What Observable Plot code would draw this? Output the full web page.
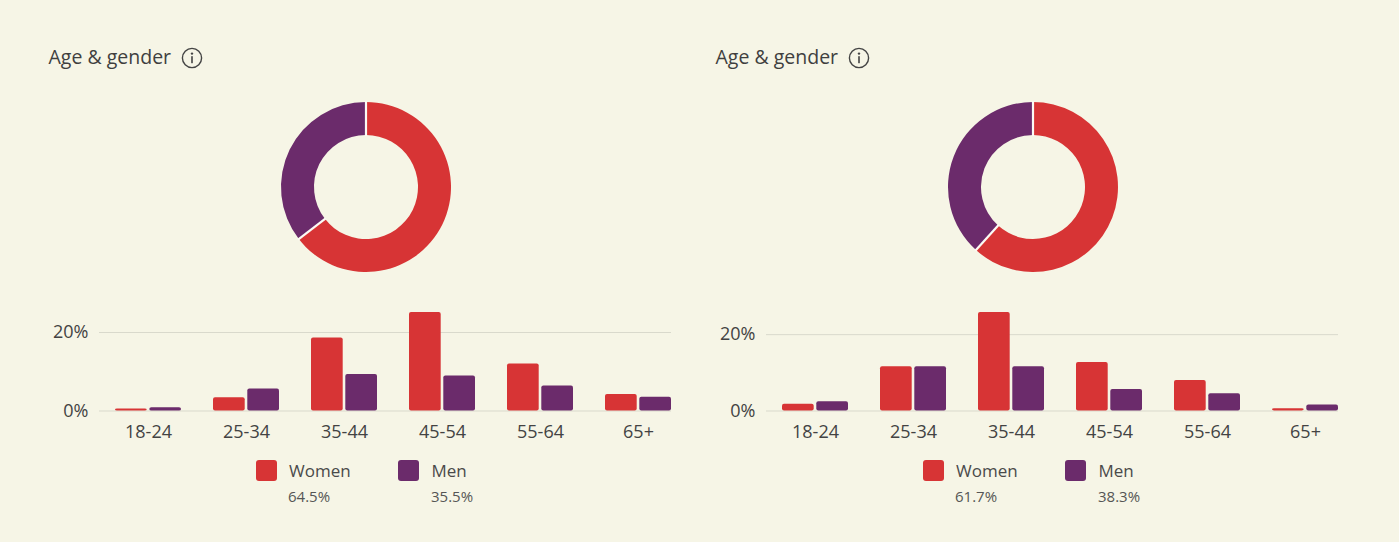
<!DOCTYPE html>
<html>
<head>
<meta charset="utf-8">
<script src="https://cdn.jsdelivr.net/npm/d3@7"></script>
<script src="https://cdn.jsdelivr.net/npm/@observablehq/plot@0.6"></script>
<style>
  html, body { margin: 0; padding: 0; }
  body { width: 1399px; height: 542px; background: #f6f5e6; overflow: hidden; font-family: "Open Sans", sans-serif; }
  #root { position: relative; width: 1399px; height: 542px; }
  .panel { position: absolute; top: 0; width: 700px; height: 542px; }
  .abs { position: absolute; line-height: 1; white-space: nowrap; }
  .title { font-size: 19.5px; color: #3f3f3f; }
  .leg { font-size: 17px; color: #4a4a4a; }
  .pct { font-size: 15px; color: #555; }
  .sw { position: absolute; width: 21px; height: 21px; border-radius: 3px; }
</style>
</head>
<body>
<div id="root"></div>
<script>
// ---- data ----
const ages = ["18-24", "25-34", "35-44", "45-54", "55-64", "65+"];
const genders = ["Women", "Men"];
const colors = ["#d73435", "#6b2b6b"];
const yTicks = [0, 20];

const womenA = [0.5, 3.4, 18.6, 25.1, 12.0, 4.2];
const menA   = [0.8, 5.6, 9.3, 8.9, 6.4, 3.5];
const sharesA = [64.5, 35.5];

const womenB = [1.8, 11.6, 25.8, 12.7, 8.0, 0.6];
const menB   = [2.4, 11.6, 11.6, 5.6, 4.5, 1.6];
const sharesB = [61.7, 38.3];

const panels = [
  {left: 0, women: womenA, men: menA, shares: sharesA},
  {left: 667, women: womenB, men: menB, shares: sharesB}
];

const root = document.getElementById("root");

function donut(shares) {
  const pieData = shares.map((v, i) => ({gender: genders[i], value: v}));
  return Plot.plot({
    width: 200, height: 200, margin: 0,
    style: {background: "transparent"},
    x: {axis: null}, y: {axis: null},
    marks: [
      (index, scales, values, dimensions) => {
        const g = d3.create("svg:g").attr("transform", `translate(${dimensions.width / 2},${dimensions.height / 2})`);
        const pie = d3.pie().value(d => d.value).sort(null)(pieData);
        const arc = d3.arc().innerRadius(52).outerRadius(85);
        g.selectAll("path").data(pie).join("path")
          .attr("d", arc)
          .attr("fill", (d, i) => colors[i]);
        // white separators at slice boundaries
        g.selectAll("line").data(pie).join("line")
          .attr("x1", d => d3.pointRadial(d.startAngle, 51)[0])
          .attr("y1", d => d3.pointRadial(d.startAngle, 51)[1])
          .attr("x2", d => d3.pointRadial(d.startAngle, 86)[0])
          .attr("y2", d => d3.pointRadial(d.startAngle, 86)[1])
          .attr("stroke", "#fbfbf5").attr("stroke-width", 2.2);
        return g.node();
      }
    ]
  });
}

function bars(women, men) {
  const data = ages.map((a, i) => ({age: a, women: women[i], men: men[i]}));
  return Plot.plot({
    width: 700, height: 160,
    marginLeft: 99, marginRight: 29, marginTop: 22, marginBottom: 39.5,
    style: {background: "transparent", fontFamily: "Open Sans, sans-serif", fontSize: "18px", color: "#434343", overflow: "visible"},
    x: {domain: ages, paddingInner: 0.3265, paddingOuter: 0.0816, align: 1, label: null, tickSize: 0, tickPadding: 14},
    y: {domain: [0, d3.max([...women, ...men])], label: null, axis: null},
    marks: [
      Plot.ruleY(yTicks, {stroke: "#d9d9cc", strokeWidth: 1}),
      Plot.axisY(yTicks, {tickFormat: d => d + "%", tickSize: 0, tickPadding: 11, label: null, fontSize: 18}),
      Plot.barY(data, {x: "age", y: "women", fill: colors[0], insetRight: 34.3, rx: 2}),
      Plot.barY(data, {x: "age", y: "men", fill: colors[1], insetLeft: 34.3, rx: 2})
    ]
  });
}

for (const p of panels) {
  const panel = document.createElement("div");
  panel.className = "panel";
  panel.style.left = p.left + "px";
  root.appendChild(panel);

  // title
  const t = document.createElement("div");
  t.className = "abs title";
  t.textContent = "Age & gender";
  t.style.left = "48.5px"; t.style.top = "46.7px";
  panel.appendChild(t);

  // info icon
  const icon = document.createElementNS("http://www.w3.org/2000/svg", "svg");
  icon.setAttribute("width", 24); icon.setAttribute("height", 24);
  icon.style.position = "absolute"; icon.style.left = "180px"; icon.style.top = "46px";
  icon.innerHTML = `<circle cx="12" cy="12" r="9.6" fill="none" stroke="#444" stroke-width="1.4"/>
    <circle cx="12" cy="7.6" r="1.2" fill="#444"/>
    <rect x="11.2" y="10.2" width="1.6" height="7" fill="#444"/>`;
  panel.appendChild(icon);

  // donut
  const d = donut(p.shares);
  d.style.position = "absolute"; d.style.left = "266px"; d.style.top = "87px";
  panel.appendChild(d);

  // bars
  const b = bars(p.women, p.men);
  b.style.position = "absolute"; b.style.left = "0px"; b.style.top = "290px";
  panel.appendChild(b);

  // legend
  const legX = [{sw: 256, tx: 289, px: 288}, {sw: 398, tx: 431.5, px: 431}];
  genders.forEach((g, i) => {
    const sw = document.createElement("div");
    sw.className = "sw";
    sw.style.left = legX[i].sw + "px"; sw.style.top = "460px";
    sw.style.background = colors[i];
    panel.appendChild(sw);
    const lt = document.createElement("div");
    lt.className = "abs leg";
    lt.textContent = g;
    lt.style.left = legX[i].tx + "px"; lt.style.top = "461.9px";
    panel.appendChild(lt);
    const pt = document.createElement("div");
    pt.className = "abs pct";
    pt.textContent = p.shares[i].toFixed(1) + "%";
    pt.style.left = legX[i].px + "px"; pt.style.top = "488.7px";
    panel.appendChild(pt);
  });
}
</script>
</body>
</html>
